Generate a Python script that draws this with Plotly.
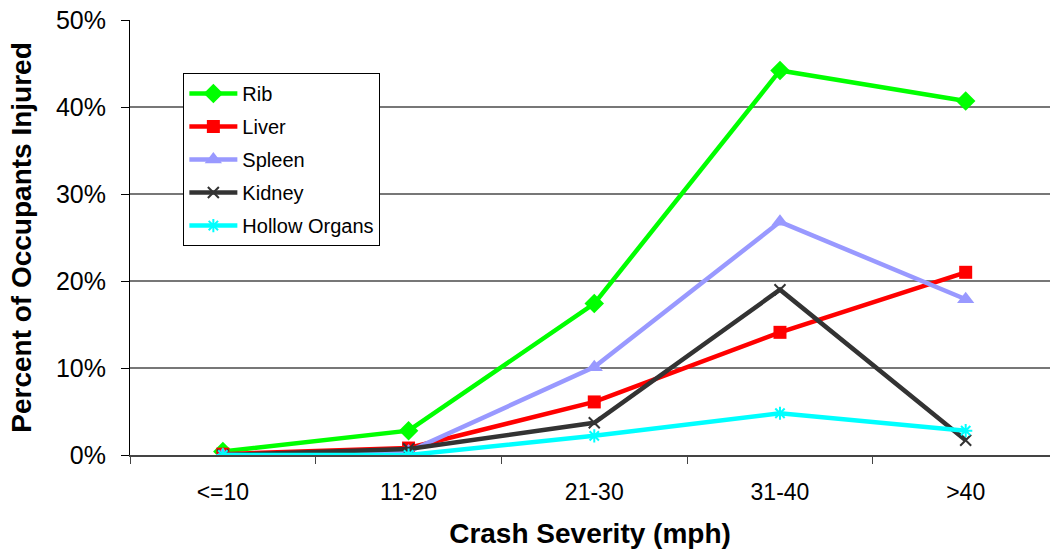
import plotly.graph_objects as go

# Crash severity bands (mph)
categories = ["<=10", "11-20", "21-30", "31-40", ">40"]

# Percent of occupants injured, by body region
rib = [0.4, 2.8, 17.4, 44.2, 40.7]
liver = [0.1, 0.8, 6.1, 14.1, 21.0]
spleen = [0.0, 0.4, 10.1, 26.8, 17.9]
kidney = [0.0, 0.7, 3.7, 19.0, 1.7]
hollow_organs = [0.0, 0.0, 2.2, 4.8, 2.8]

y_ticks = [0, 10, 20, 30, 40, 50]
y_tick_labels = ["0%", "10%", "20%", "30%", "40%", "50%"]

FONT = "Liberation Sans, Arial, sans-serif"

series = [
    ("Rib", rib, "#00ff00", dict(symbol="diamond", size=15, color="#00ff00")),
    ("Liver", liver, "#ff0000", dict(symbol="square", size=13, color="#ff0000")),
    ("Spleen", spleen, "#9999ff", dict(symbol="triangle-up", size=15, color="#9999ff")),
    ("Kidney", kidney, "#333333",
     dict(symbol="x-thin", size=11, color="#333333", line=dict(width=2, color="#333333"))),
    ("Hollow Organs", hollow_organs, "#00ffff",
     dict(symbol="asterisk", size=11, color="#00ffff", line=dict(width=2, color="#00ffff"))),
]

fig = go.Figure()
for name, values, color, marker in series:
    fig.add_trace(go.Scatter(
        x=categories, y=values, name=name, mode="lines+markers",
        line=dict(color=color, width=4.5), marker=marker,
        legendgroup=name, hoverinfo="skip",
    ))

fig.update_layout(
    width=1050, height=555,
    margin=dict(l=130, r=0, t=20, b=100),
    paper_bgcolor="white", plot_bgcolor="white",
    font=dict(family=FONT, color="black"),
    showlegend=True,
    legend=dict(
        x=0.058, y=0.878, xanchor="left", yanchor="top",
        bgcolor="white", bordercolor="black", borderwidth=1,
        font=dict(size=20, family=FONT, color="black"),
        tracegroupgap=4, itemwidth=48,
    ),
    xaxis=dict(
        type="category", range=[-0.5, 4.454],
        showline=True, linecolor="#444444", linewidth=2,
        ticks="outside", tickson="boundaries", ticklen=7, tickcolor="#444444",
        tickfont=dict(size=23), ticklabelstandoff=15,
        showgrid=False, zeroline=False,
        title=dict(text="<b>Crash Severity (mph)</b>", font=dict(size=28), standoff=20),
    ),
    yaxis=dict(
        range=[0, 50], tickvals=y_ticks, ticktext=y_tick_labels,
        showline=True, linecolor="black", linewidth=1,
        ticks="outside", ticklen=8, tickcolor="black",
        tickfont=dict(size=25), ticklabelstandoff=10,
        showgrid=True, gridcolor="#777777", gridwidth=1.5, zeroline=False,
        title=dict(text="<b>Percent of Occupants Injured</b>", font=dict(size=28), standoff=16),
    ),
)

fig.write_html("out.html")
